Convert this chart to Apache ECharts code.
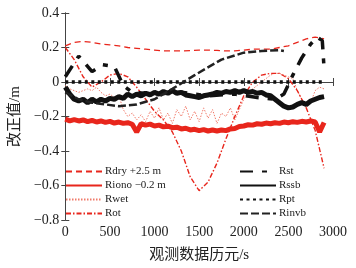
<!DOCTYPE html>
<html>
<head>
<meta charset="utf-8">
<script src="https://cdn.jsdelivr.net/npm/echarts@6/dist/echarts.min.js"></script>
<style>
  html, body { margin: 0; padding: 0; background: #fff; }
  #chart { width: 356px; height: 268px; }
</style>
</head>
<body>
<div id="chart"></div>
<script>
// epochs (s)
const epochs100 = [0,100,200,300,400,500,600,700,800,900,1000,1100,1200,1300,1400,1500,1600,1700,1800,1900,2000,2100,2200,2300,2400,2500,2600,2700,2800,2900];
const epochs50 = [0,50,100,150,200,250,300,350,400,450,500,550,600,650,700,750,800,850,900,950,1000,1050,1100,1150,1200,1250,1300,1350,1400,1450,1500,1550,1600,1650,1700,1750,1800,1850,1900,1950,2000,2050,2100,2150,2200,2250,2300,2350,2400,2450,2500,2550,2600,2650,2700,2750,2800,2850,2900];

// corrections (m)
const rdry = [0.21,0.23,0.235,0.23,0.22,0.215,0.21,0.2,0.195,0.19,0.185,0.18,0.18,0.18,0.182,0.185,0.185,0.183,0.18,0.18,0.185,0.19,0.19,0.19,0.2,0.21,0.23,0.25,0.26,0.25];
const rpt = [0,0,0,0,0,0,0,0,0,0,0,0,0,0,0,0,0,0,0,0,0,0,0,0,0,0,0,0,0,0];
const rot = [0.2,0.13,0.03,-0.03,0.0,0.04,0.05,0.03,-0.03,-0.1,-0.17,-0.22,-0.29,-0.4,-0.55,-0.63,-0.58,-0.47,-0.33,-0.2,-0.08,0.0,0.04,0.05,0.05,0.02,-0.05,-0.15,-0.28,-0.5];
const riono = [-0.215,-0.225,-0.218,-0.226,-0.22,-0.23,-0.222,-0.232,-0.226,-0.234,-0.228,-0.238,-0.232,-0.24,-0.236,-0.245,-0.29,-0.242,-0.25,-0.244,-0.255,-0.25,-0.26,-0.256,-0.265,-0.262,-0.272,-0.268,-0.278,-0.274,-0.282,-0.276,-0.284,-0.278,-0.284,-0.278,-0.282,-0.272,-0.27,-0.258,-0.255,-0.248,-0.25,-0.242,-0.245,-0.238,-0.242,-0.236,-0.24,-0.232,-0.236,-0.23,-0.234,-0.228,-0.232,-0.226,-0.232,-0.29,-0.235];
const rssb = [-0.03,-0.07,-0.1,-0.11,-0.1,-0.12,-0.1,-0.115,-0.1,-0.11,-0.095,-0.1,-0.085,-0.095,-0.07,-0.085,-0.07,-0.08,-0.065,-0.075,-0.06,-0.07,-0.055,-0.065,-0.05,-0.065,-0.06,-0.075,-0.08,-0.085,-0.09,-0.08,-0.075,-0.07,-0.06,-0.065,-0.055,-0.06,-0.05,-0.06,-0.05,-0.06,-0.055,-0.065,-0.06,-0.075,-0.08,-0.1,-0.12,-0.14,-0.15,-0.145,-0.13,-0.12,-0.13,-0.11,-0.1,-0.09,-0.085];
const rwet = [-0.02,-0.04,-0.05,-0.06,-0.05,-0.04,-0.05,-0.03,-0.06,-0.08,-0.07,-0.09,-0.08,-0.16,-0.2,-0.18,-0.22,-0.19,-0.23,-0.17,-0.21,-0.15,-0.22,-0.18,-0.24,-0.16,-0.2,-0.14,-0.22,-0.17,-0.23,-0.15,-0.21,-0.16,-0.24,-0.18,-0.2,-0.15,-0.22,-0.16,-0.1,-0.06,-0.04,-0.02,0.0,0.02,0.04,0.05,0.05,0.04,0.03,0.02,-0.05,-0.1,-0.15,-0.12,-0.05,-0.03,-0.04];
const rstEpochs = [0,150,300,420,550,650,750,1000,1300,1600,1900,2150,2350,2450,2550,2650,2750,2820,2880,2900];
const rst = [0.03,0.15,0.06,0.1,0.09,-0.02,-0.06,-0.07,-0.06,-0.08,-0.07,-0.09,-0.1,-0.07,0.04,0.14,0.22,0.26,0.24,0.08];
const rinvbEpochs = [0,150,300,600,800,1000,1200,1450,1750,2000,2200,2400,2450];
const rinvb = [-0.06,-0.1,-0.12,-0.14,-0.13,-0.1,-0.04,0.04,0.13,0.17,0.18,0.185,0.18];

const zip = (xs, ys) => xs.map((x, i) => [x, ys[i]]);
const RED = '#e8261c';
const BLACK = '#111';
const FONT = '"Liberation Serif", "Noto Sans CJK SC", serif';
const AXIS = '#444';

const chart = echarts.init(document.getElementById('chart'));

const line = (name, xs, ys, color, width, type, z) => ({
  name, type: 'line', data: zip(xs, ys), symbol: 'none', z: z || 2,
  lineStyle: { color, width, type }, itemStyle: { color }
});

const legendBase = {
  orient: 'vertical', top: 161, itemGap: 3,
  itemWidth: 36, itemHeight: 12,
  itemStyle: { opacity: 0 },
  textStyle: { fontFamily: FONT, fontSize: 11, color: '#222', padding: [0, 0, 0, -2] }
};

chart.setOption({
  animation: false,
  grid: { left: 56, right: 23, top: 13, bottom: 48 },
  xAxis: [{
    type: 'value', min: 0, max: 3000, interval: 500,
    name: '观测数据历元/s', nameLocation: 'middle', nameGap: 28,
    nameTextStyle: { fontFamily: FONT, fontSize: 15, color: '#222' },
    axisLine: { lineStyle: { color: AXIS } },
    axisTick: { inside: true, length: 4, lineStyle: { color: AXIS } },
    axisLabel: { fontFamily: FONT, fontSize: 14, color: '#222', margin: 5, formatter: v => String(v) },
    splitLine: { show: false }
  }, {
    type: 'value', min: 0, max: 3000, interval: 500, position: 'top',
    axisLine: { show: true, lineStyle: { color: AXIS } },
    axisTick: { inside: true, length: 4, lineStyle: { color: AXIS } },
    axisLabel: { show: false }, splitLine: { show: false }
  }],
  yAxis: [{
    type: 'value', min: -0.8, max: 0.4, interval: 0.2,
    name: '改正值/m', nameLocation: 'middle', nameGap: 42,
    nameTextStyle: { fontFamily: FONT, fontSize: 15, color: '#222' },
    axisLine: { show: true, lineStyle: { color: AXIS } },
    axisTick: { show: true, inside: true, length: 4, lineStyle: { color: AXIS } },
    axisLabel: {
      fontFamily: FONT, fontSize: 14, color: '#222', margin: 6,
      formatter: v => {
        const r = Math.round(v * 10) / 10;
        if (r === 0) return '0';
        return (r < 0 ? '\u2212' : '') + Math.abs(r).toFixed(1);
      }
    },
    splitLine: { show: false }
  }, {
    type: 'value', min: -0.8, max: 0.4, interval: 0.2, position: 'right',
    axisLine: { show: true, lineStyle: { color: AXIS } },
    axisTick: { show: true, inside: true, length: 4, lineStyle: { color: AXIS } },
    axisLabel: { show: false }, splitLine: { show: false }
  }],
  legend: [
    Object.assign({}, legendBase, { left: 60, data: ['Rdry +2.5 m', 'Riono \u22120.2 m', 'Rwet', 'Rot'] }),
    Object.assign({}, legendBase, { left: 234, data: ['Rst', 'Rssb', 'Rpt', 'Rinvb'] })
  ],
  series: [
    line('Rdry +2.5 m', epochs100, rdry, RED, 1.3, [6, 4]),
    line('Riono \u22120.2 m', epochs50, riono, RED, 5, 'solid'),
    line('Rwet', epochs50, rwet, '#f07a6a', 1, [1.5, 1.5]),
    line('Rot', epochs100, rot, RED, 1.4, [5, 2, 1.5, 2]),
    line('Rst', rstEpochs, rst, BLACK, 3.5, [13, 9, 5, 9], 3),
    line('Rssb', epochs50, rssb, BLACK, 5, 'solid', 3),
    line('Rpt', epochs100, rpt, BLACK, 3.5, [3, 3.5], 3),
    line('Rinvb', rinvbEpochs, rinvb, '#222', 2.5, [8, 3], 3)
  ]
});
</script>
</body>
</html>
